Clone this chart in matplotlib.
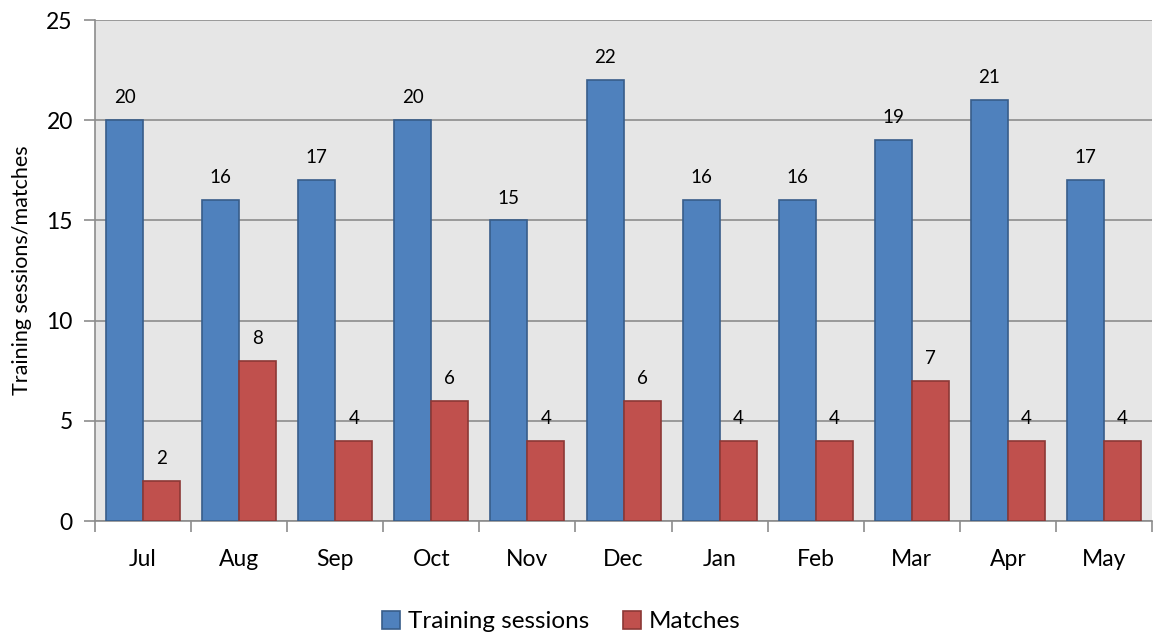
import numpy as np
import matplotlib.pyplot as plt

months = ['Jul', 'Aug', 'Sep', 'Oct', 'Nov', 'Dec', 'Jan', 'Feb', 'Mar', 'Apr', 'May']
training = [20, 16, 17, 20, 15, 22, 16, 16, 19, 21, 17]
matches = [2, 8, 4, 6, 4, 6, 4, 4, 7, 4, 4]

plt.rcParams['font.family'] = ['Lato', 'DejaVu Sans']

fig = plt.figure(figsize=(11.57, 6.35), dpi=100)
ax = fig.add_axes([0.0821, 0.1795, 0.9136, 0.789])

x = np.arange(len(months))
w = 0.385
b1 = ax.bar(x - w / 2, training, w, color='#4f81bd', edgecolor='#385d8a', linewidth=1.2,
            label='Training sessions', zorder=3)
b2 = ax.bar(x + w / 2, matches, w, color='#c0504d', edgecolor='#8c3836', linewidth=1.2,
            label='Matches', zorder=3)

for bars in (b1, b2):
    for r in bars:
        ax.annotate(str(int(r.get_height())), (r.get_x() + r.get_width() / 2, r.get_height()),
                    xytext=(0, 10), textcoords='offset points', ha='center', va='bottom', fontsize=13.5)

ax.set_facecolor('#e6e6e6')
ax.set_xlim(-0.5, len(months) - 0.5)
ax.set_ylim(0, 25)
ax.set_yticks(range(0, 26, 5))
ax.yaxis.grid(True, color='#8c8c8c', linewidth=1.2, zorder=0)
ax.set_axisbelow(True)

ax.set_xticks(x)
ax.set_xticklabels(months, fontsize=16.5)
ax.tick_params(axis='x', length=0, pad=20)
ax.set_xticks(np.arange(-0.5, len(months), 1), minor=True)
ax.tick_params(axis='x', which='minor', length=8, color='#8c8c8c', width=1.2)
ax.tick_params(axis='y', labelsize=16.5, length=8, color='#8c8c8c', width=1.2, pad=8)

for s in ['top', 'right']:
    ax.spines[s].set_visible(False)
for s in ['left', 'bottom']:
    ax.spines[s].set_color('#8c8c8c')
    ax.spines[s].set_linewidth(1.2)

ax.set_ylabel('Training sessions/matches', fontsize=15.5, labelpad=10)

fig.legend(handles=[b1, b2], loc='lower center', bbox_to_anchor=(0.485, -0.03), ncol=2,
           frameon=False, fontsize=17.5, handlelength=0.75, handleheight=0.75,
           handletextpad=0.3, columnspacing=1.4)

fig.savefig('out.png', dpi=100)
